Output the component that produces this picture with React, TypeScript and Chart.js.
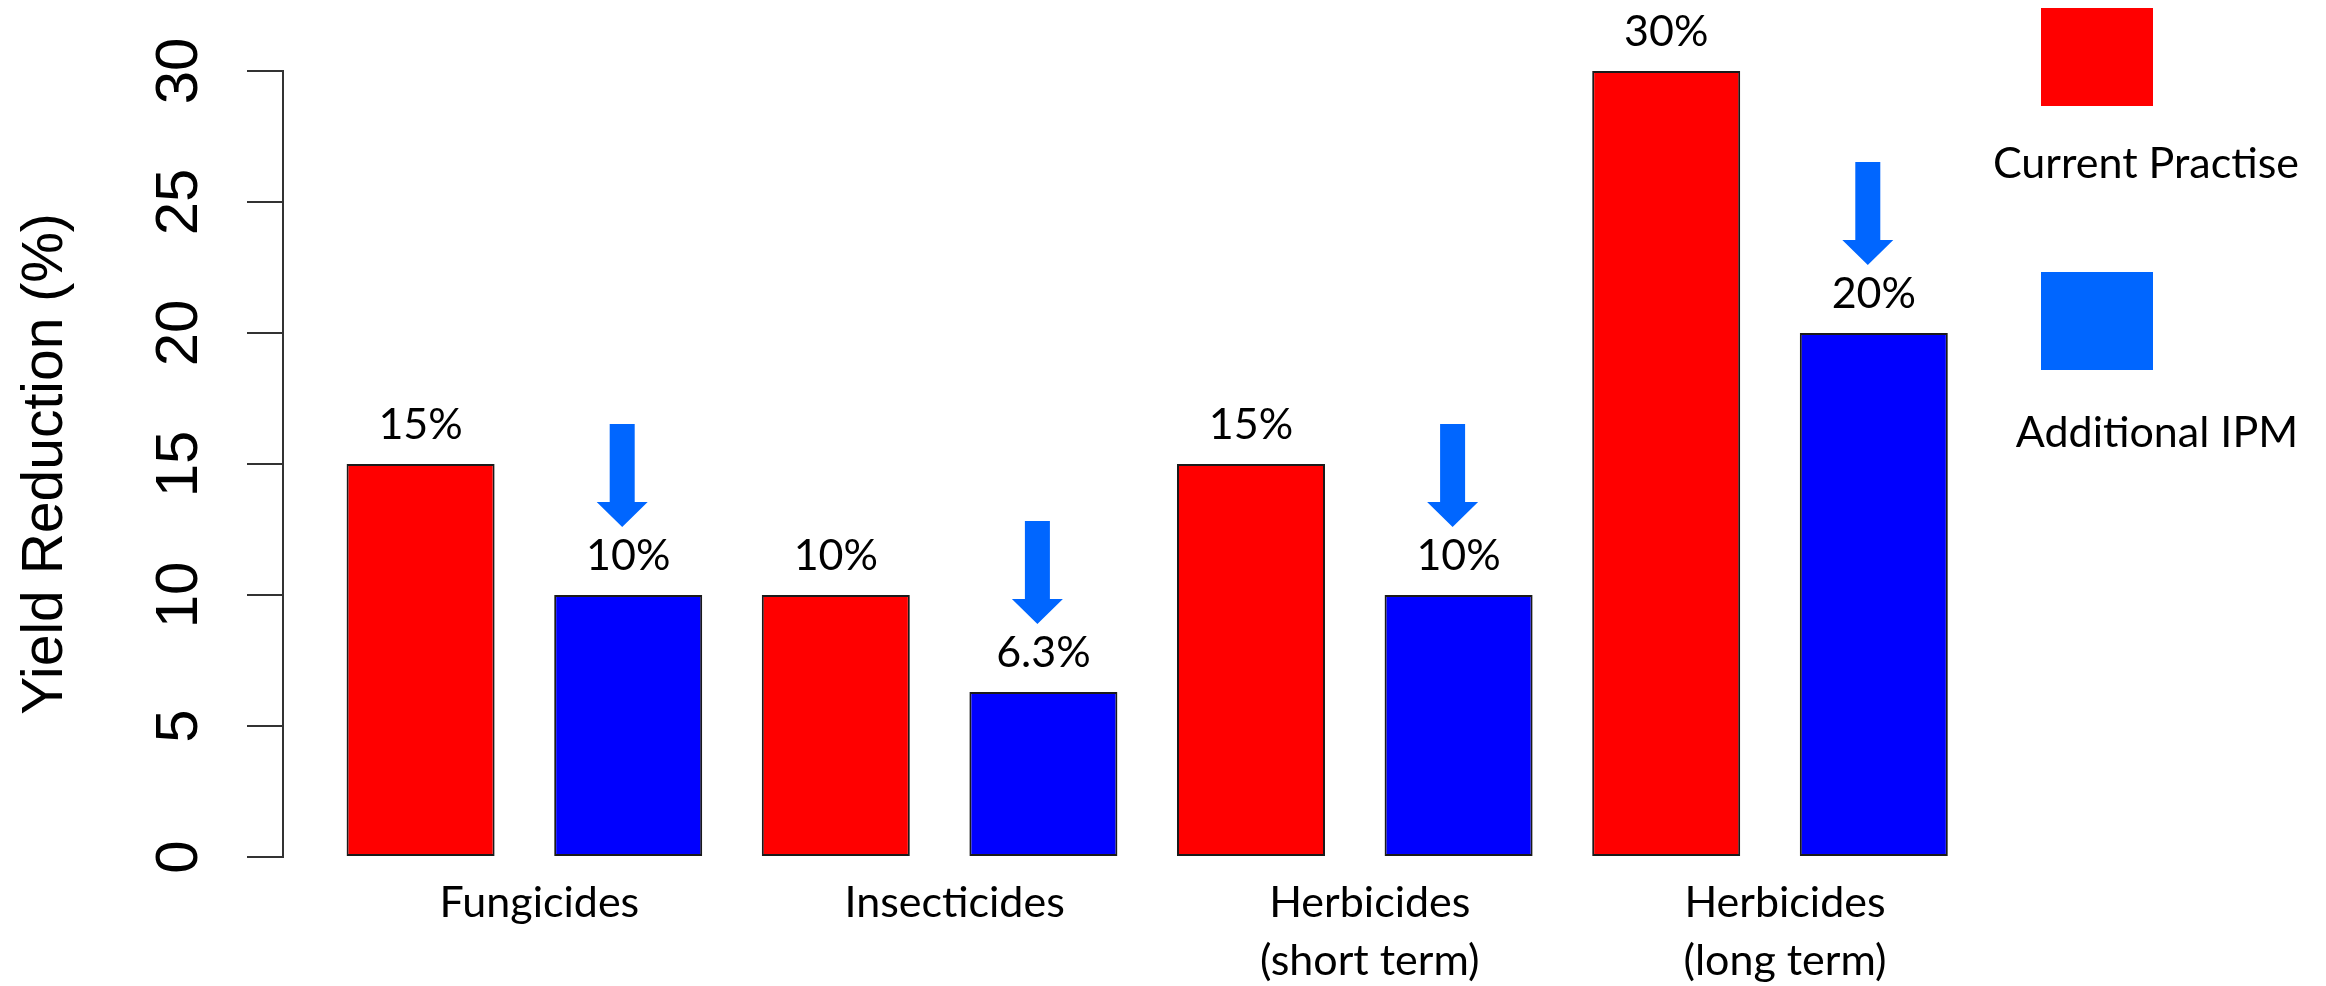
import React, { useEffect, useRef } from "react";
import { Chart, registerables } from "chart.js";

Chart.register(...registerables);

// ---------- data ----------
const categories: string[][] = [
  ["Fungicides"],
  ["Insecticides"],
  ["Herbicides", "(short term)"],
  ["Herbicides", "(long term)"],
];
const seriesNames = ["Current Practise", "Additional IPM"];
const currentPractise = [15, 10, 15, 30];
const additionalIPM = [10, 6.3, 10, 20];
const yTicks = [0, 5, 10, 15, 20, 25, 30];
const yTitle = "Yield Reduction (%)";
const barColors = ["#FF0000", "#0000FF"];
const legendColors = ["#FF0000", "#0066FF"];
const arrowColor = "#0066FF";

// ---------- layout ----------
const W = 2326;
const H = 986;
const AXIS_X = 283;
const PLOT_TOP = 71;
const PLOT_BOTTOM = 857;
const PLOT_RIGHT = 1977.6;
const X_MAX = 3.5;
const X_MIN = -0.5814;

const SANS_R = "'Liberation Sans', Arial, Helvetica, sans-serif";
const SANS_C = "Lato, Carlito, 'Open Sans', sans-serif";

const valueLabelPlugin = {
  id: "valueLabels",
  afterDatasetsDraw(chart: any) {
    const ctx = chart.ctx;
    ctx.save();
    ctx.font = `43px ${SANS_C}`;
    ctx.fillStyle = "#000";
    ctx.textAlign = "center";
    ctx.textBaseline = "alphabetic";
    chart.data.datasets.forEach((ds: any, d: number) => {
      const meta = chart.getDatasetMeta(d);
      meta.data.forEach((bar: any, i: number) => {
        const v = ds.data[i].y;
        ctx.fillText(`${v}%`, bar.x, bar.y - 25);
      });
    });
    ctx.restore();
  },
};

const arrowPlugin = {
  id: "arrows",
  afterDatasetsDraw(chart: any) {
    const ctx = chart.ctx;
    const meta = chart.getDatasetMeta(1);
    ctx.save();
    ctx.fillStyle = arrowColor;
    meta.data.forEach((bar: any) => {
      const cx = bar.x - 6;
      const tip = bar.y - 68;
      const top = tip - 103;
      const headStart = tip - 25;
      const sw = 12.5;
      const hw = 25.5;
      ctx.beginPath();
      ctx.moveTo(cx - sw, top);
      ctx.lineTo(cx + sw, top);
      ctx.lineTo(cx + sw, headStart);
      ctx.lineTo(cx + hw, headStart);
      ctx.lineTo(cx, tip);
      ctx.lineTo(cx - hw, headStart);
      ctx.lineTo(cx - sw, headStart);
      ctx.closePath();
      ctx.fill();
    });
    ctx.restore();
  },
};

const legendPlugin = {
  id: "customLegend",
  afterDraw(chart: any) {
    const ctx = chart.ctx;
    const items = [
      { boxTop: 8, textY: 178, textX: 2146 },
      { boxTop: 272, textY: 447, textX: 2157 },
    ];
    ctx.save();
    chart.data.datasets.forEach((ds: any, d: number) => {
      const it = items[d];
      ctx.fillStyle = legendColors[d];
      ctx.fillRect(2041, it.boxTop, 112, 98);
      ctx.fillStyle = "#000";
      ctx.font = `43px ${SANS_C}`;
      ctx.textAlign = "center";
      ctx.textBaseline = "alphabetic";
      ctx.fillText(ds.label, it.textX, it.textY);
    });
    ctx.restore();
  },
};

export default function App() {
  const ref = useRef<HTMLCanvasElement | null>(null);

  useEffect(() => {
    if (!ref.current) return;
    const series = [currentPractise, additionalIPM];
    const chart = new Chart(ref.current, {
      type: "bar",
      data: {
        datasets: series.map((vals, d) => ({
          label: seriesNames[d],
          data: vals.map((v, i) => ({ x: i, y: v })),
          backgroundColor: barColors[d],
          borderColor: "#1a1a1a",
          borderWidth: 2,
          borderSkipped: false,
          categoryPercentage: 1,
          barPercentage: 0.713,
          clip: false,
        })),
      },
      options: {
        responsive: false,
        animation: false,
        events: [],
        layout: { padding: { left: 0, top: PLOT_TOP, right: W - PLOT_RIGHT, bottom: 0 } },
        plugins: {
          legend: { display: false },
          tooltip: { enabled: false },
          title: { display: false },
        },
        scales: {
          x: {
            type: "linear",
            min: X_MIN,
            max: X_MAX,
            offset: false,
            grid: { display: false, drawTicks: false },
            border: { display: false },
            afterBuildTicks: (scale: any) => {
              scale.ticks = categories.map((_, i) => ({ value: i }));
            },
            afterFit: (scale: any) => {
              scale.height = H - PLOT_BOTTOM;
            },
            ticks: {
              autoSkip: false,
              maxRotation: 0,
              minRotation: 0,
              padding: 18,
              labelOffset: 15,
              color: "#000",
              font: { family: SANS_C, size: 43, lineHeight: 1.33 },
              callback: (v: any) => categories[Math.round(Number(v))] ?? "",
            },
          },
          y: {
            type: "linear",
            min: 0,
            max: 30,
            afterBuildTicks: (scale: any) => {
              scale.ticks = yTicks.map((v) => ({ value: v }));
            },
            afterFit: (scale: any) => {
              scale.width = AXIS_X;
            },
            grid: {
              display: true,
              drawOnChartArea: false,
              drawTicks: true,
              tickLength: 36,
              color: "#333",
              lineWidth: 2,
            },
            border: { display: true, color: "#333", width: 2 },
            ticks: {
              minRotation: 90,
              maxRotation: 90,
              crossAlign: "center",
              padding: 33.6,
              color: "#000",
              font: { family: SANS_R, size: 60 },
            },
            title: {
              display: true,
              text: yTitle,
              color: "#000",
              padding: { top: 12, bottom: 0 },
              font: { family: SANS_R, size: 57, lineHeight: 1.2 },
            },
          },
        },
      } as any,
      plugins: [valueLabelPlugin, arrowPlugin, legendPlugin],
    });
    return () => chart.destroy();
  }, []);

  return (
    <div style={{ position: "absolute", left: 0, top: 0, width: W, height: H, background: "#fff" }}>
      <canvas ref={ref} width={W} height={H} style={{ display: "block", width: W, height: H }} />
    </div>
  );
}
